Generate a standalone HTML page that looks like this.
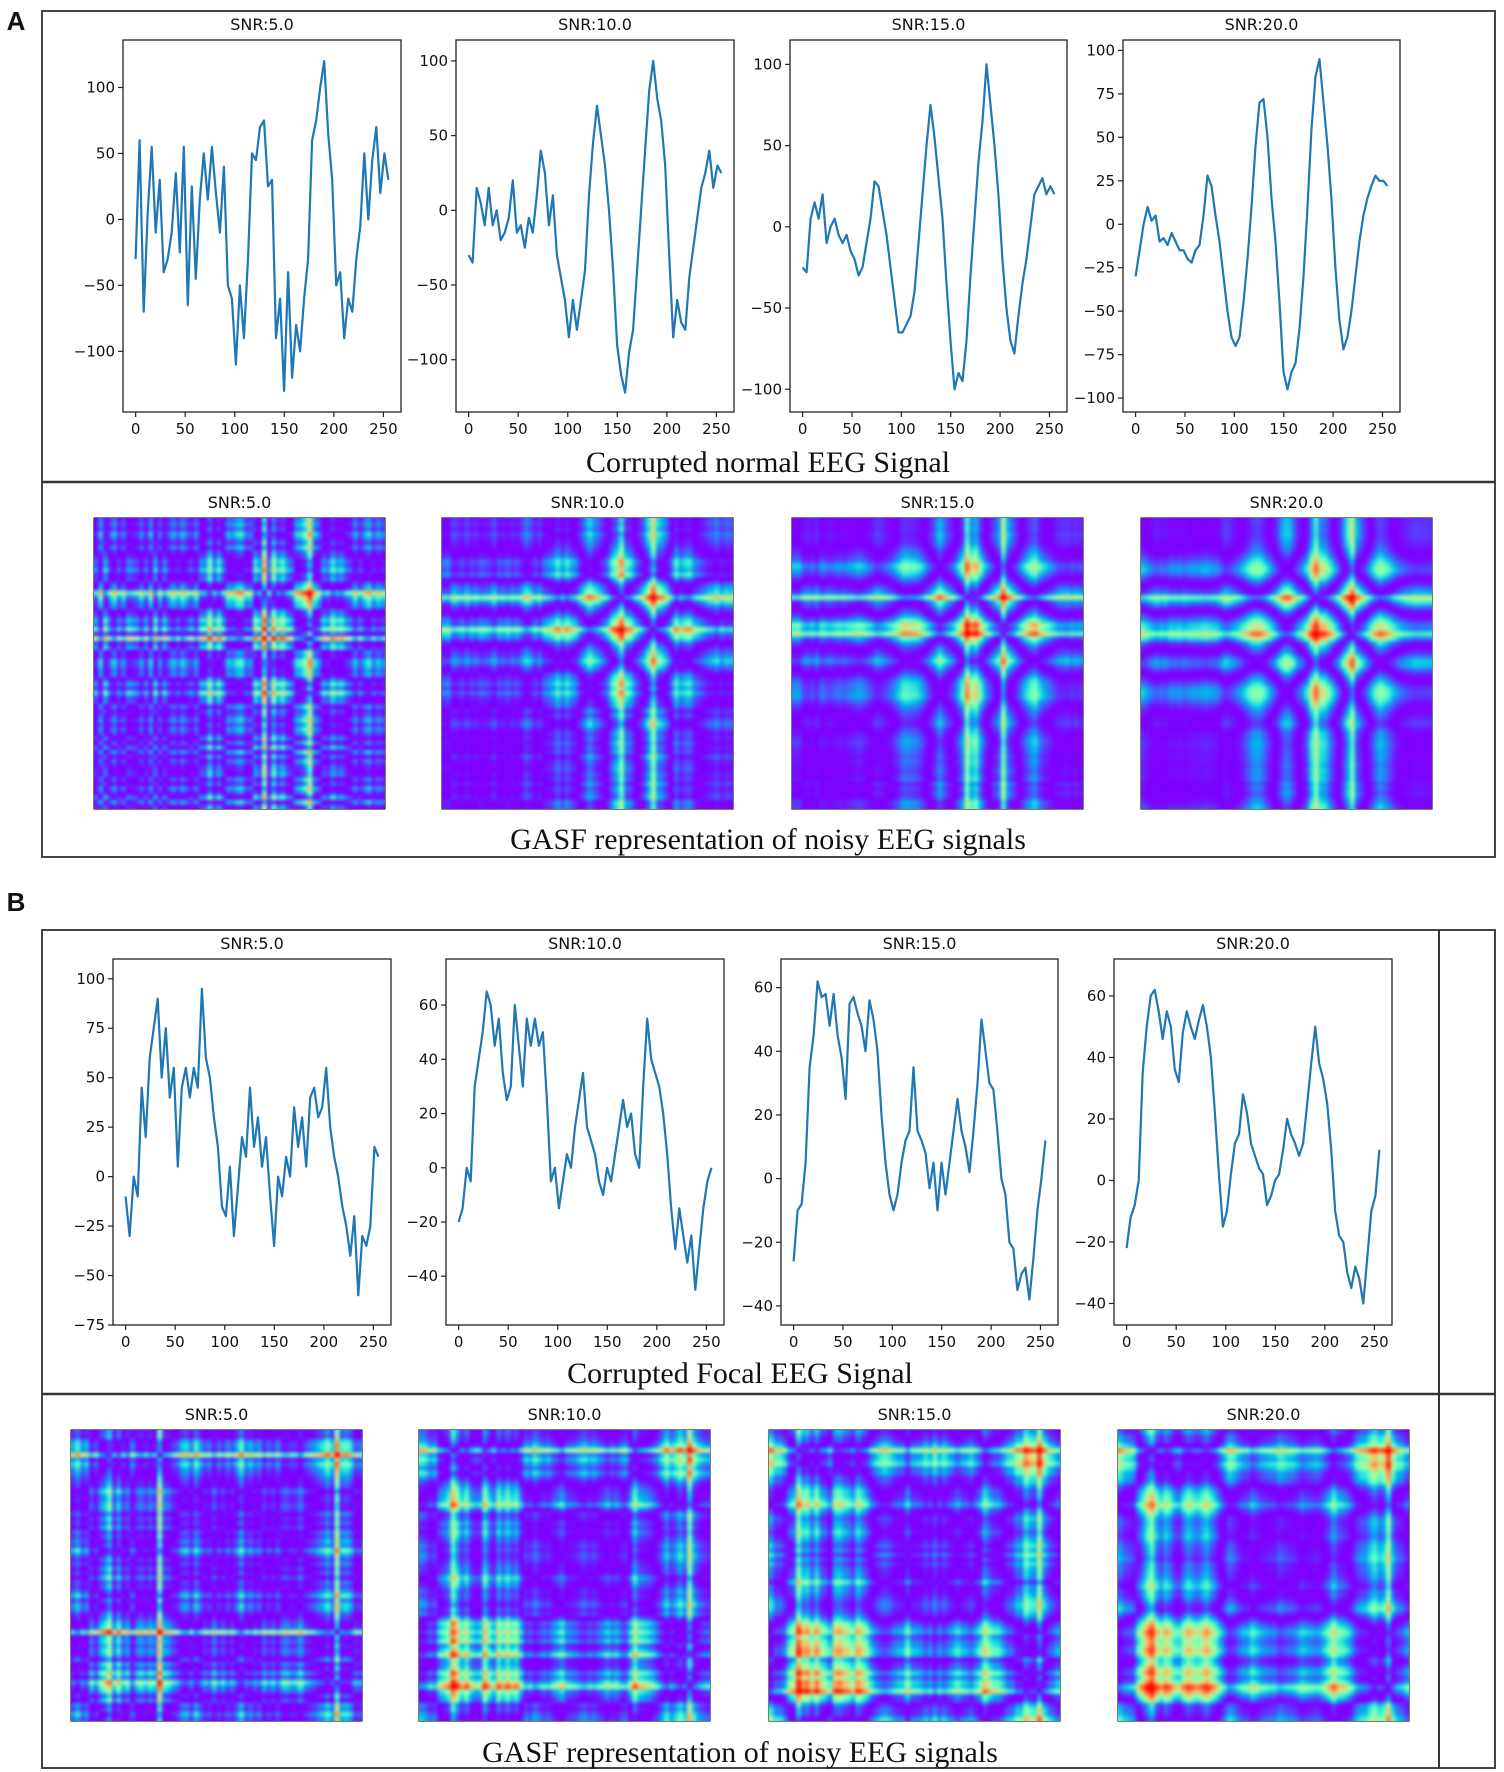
<!DOCTYPE html>
<html><head><meta charset="utf-8"><title>EEG GASF figure</title>
<style>
html,body{margin:0;padding:0;background:#fff;}
#wrap{position:relative;width:1504px;height:1772px;overflow:hidden;background:#fff;}
svg{position:absolute;left:0;top:0;}
canvas{position:absolute;image-rendering:auto;}
</style></head>
<body>
<div id="wrap">
<svg id="svg" width="1504" height="1772" xmlns="http://www.w3.org/2000/svg"></svg>
</div>
<script>
// ---- data (64 samples over t = 0..255) ----
const xTicks = [0,50,100,150,200,250];
const titles = ["SNR:5.0","SNR:10.0","SNR:15.0","SNR:20.0"];
const normalSnr5 = [-30,60,-70,5,55,-10,30,-40,-30,-10,35,-25,55,-65,25,-45,15,50,15,55,20,-10,40,-50,-60,-110,-50,-90,-30,50,45,70,75,25,30,-90,-60,-130,-40,-120,-80,-100,-60,-30,60,75,100,120,65,30,-50,-40,-90,-60,-70,-30,-5,50,0,45,70,20,50,30];
const normalSnr10 = [-30,-35,15,5,-10,15,-10,0,-20,-15,-5,20,-15,-10,-25,-5,-15,10,40,25,-10,10,-30,-45,-60,-85,-60,-80,-60,-40,10,45,70,50,30,0,-40,-90,-110,-122,-95,-80,-40,0,40,80,100,75,60,30,-30,-85,-60,-75,-80,-45,-25,-5,15,25,40,15,30,25];
const normalSnr15 = [-25,-28,5,15,5,20,-10,0,5,-5,-10,-5,-15,-20,-30,-25,-10,5,28,25,10,-5,-25,-45,-65,-65,-60,-55,-40,-10,20,50,75,55,30,5,-35,-70,-100,-90,-95,-70,-30,5,40,65,100,75,50,20,-20,-50,-70,-78,-55,-35,-20,0,20,25,30,20,25,20];
const normalSnr20 = [-30,-15,0,10,2,5,-10,-8,-12,-5,-10,-15,-15,-20,-22,-15,-12,5,28,22,5,-10,-30,-50,-65,-70,-65,-45,-20,10,45,70,72,50,15,-10,-45,-85,-95,-85,-80,-60,-30,10,55,85,95,70,45,15,-25,-55,-72,-65,-50,-30,-10,5,15,22,28,25,25,22];
const focalSnr5 = [-10,-30,0,-10,45,20,60,75,90,50,75,40,55,5,45,55,40,55,45,95,60,50,30,15,-15,-20,5,-30,-5,20,10,45,15,30,5,20,-10,-35,0,-10,10,0,35,15,30,5,40,45,30,35,55,25,10,0,-15,-25,-40,-20,-60,-30,-35,-25,15,10];
const focalSnr10 = [-20,-15,0,-5,30,40,50,65,60,45,55,35,25,30,60,45,30,55,45,55,45,50,25,-5,0,-15,-5,5,0,15,25,35,15,10,5,-5,-10,0,-5,5,15,25,15,20,5,0,30,55,40,35,30,20,5,-15,-30,-15,-25,-35,-25,-45,-30,-15,-5,0];
const focalSnr15 = [-26,-10,-8,5,35,45,62,57,58,48,58,45,38,25,55,57,52,48,40,56,50,40,20,5,-5,-10,-5,5,12,15,35,15,12,8,-3,5,-10,5,-5,5,15,25,15,10,2,15,30,50,40,30,28,15,0,-5,-20,-22,-35,-30,-28,-38,-25,-10,0,12];
const focalSnr20 = [-22,-12,-8,0,35,50,60,62,55,46,55,50,36,32,48,55,50,46,52,57,50,40,22,2,-15,-10,2,12,15,28,22,12,8,4,2,-8,-5,0,2,10,20,15,12,8,12,25,38,50,38,33,25,10,-10,-18,-20,-30,-35,-28,-32,-40,-25,-10,-5,10];
const seriesA = [normalSnr5, normalSnr10, normalSnr15, normalSnr20];
const seriesB = [focalSnr5, focalSnr10, focalSnr15, focalSnr20];
const yTicksA = [[-100,-50,0,50,100],[-100,-50,0,50,100],[-100,-50,0,50,100],[-100,-75,-50,-25,0,25,50,75,100]];
const yTicksB = [[-75,-50,-25,0,25,50,75,100],[-40,-20,0,20,40,60],[-40,-20,0,20,40,60],[-40,-20,0,20,40,60]];
const yLimsA = [[-146,136],[-135,114],[-114,115],[-108,106]];
const yLimsB = [[-75,110],[-58,77],[-46,69],[-47,72]];

// ---- layout ----
const NS = "http://www.w3.org/2000/svg";
const svg = document.getElementById('svg');
const wrap = document.getElementById('wrap');
function el(tag, attrs, parent){
  const e = document.createElementNS(NS, tag);
  for (const k in attrs) e.setAttribute(k, attrs[k]);
  (parent||svg).appendChild(e);
  return e;
}
function txt(s, x, y, size, anchor, family, parent, weight){
  const t = el('text', {x:x, y:y, 'font-size':size, 'text-anchor':anchor||'middle', 'font-family':family||'"DejaVu Sans", sans-serif', fill:'#111', 'font-weight':weight||'normal'}, parent);
  t.textContent = s;
  return t;
}
const fmt = v => (v<0 ? '\u2212'+Math.abs(v) : String(v));

function frame(x1,y1,x2,y2,name){
  const g = el('g', {});
  
  
  el('rect', {x:x1, y:y1, width:x2-x1, height:y2-y1, fill:'none', stroke:'#444', 'stroke-width':2}, g);
  return g;
}
const pA = frame(42,11,1495,857,'panel-a');
el('line',{x1:42,y1:482,x2:1495,y2:482,stroke:'#333','stroke-width':2.5}, pA);
const pB = frame(42,930,1495,1768,'panel-b');
el('line',{x1:42,y1:1394,x2:1495,y2:1394,stroke:'#333','stroke-width':2.5}, pB);
el('line',{x1:1439,y1:930,x2:1439,y2:1768,stroke:'#333','stroke-width':2}, pB);

const lblA = txt('A', 16, 30, 26, 'middle', '"Liberation Sans", sans-serif', svg, 'bold');


const lblB = txt('B', 16, 911, 26, 'middle', '"Liberation Sans", sans-serif', svg, 'bold');



const capFont = '"Liberation Serif", serif';
const c1 = txt('Corrupted normal EEG Signal', 768, 472, 30, 'middle', capFont);


const c2 = txt('GASF representation of noisy EEG signals', 768, 849, 30, 'middle', capFont);


const c3 = txt('Corrupted Focal EEG Signal', 740, 1383, 30, 'middle', capFont);


const c4 = txt('GASF representation of noisy EEG signals', 740, 1762, 30, 'middle', capFont);



// ---- line plots ----
function linePlot(box, data, yLim, yTicks, title, name){
  const [x1,y1,x2,y2] = box;
  const g = el('g', {});
  
  
  const xs = v => x1 + (v + 12.75) / 280.5 * (x2 - x1);
  const ys = v => y2 - (v - yLim[0]) / (yLim[1] - yLim[0]) * (y2 - y1);
  const n = data.length;
  const pts = data.map((v,i) => xs(i*255/(n-1)).toFixed(1)+','+ys(v).toFixed(1)).join(' ');
  const line = el('polyline', {points:pts, fill:'none', stroke:'#1f77b4', 'stroke-width':2.2, 'stroke-linejoin':'round'}, g);
  
  
  el('rect', {x:x1, y:y1, width:x2-x1, height:y2-y1, fill:'none', stroke:'#222', 'stroke-width':1.3}, g);
  xTicks.forEach(t => {
    el('line', {x1:xs(t), y1:y2, x2:xs(t), y2:y2+5, stroke:'#222', 'stroke-width':1.2}, g);
    const tl = txt(String(t), xs(t), y2+22, 15, 'middle', null, g);
    
    
  });
  yTicks.forEach(t => {
    el('line', {x1:x1-5, y1:ys(t), x2:x1, y2:ys(t), stroke:'#222', 'stroke-width':1.2}, g);
    const tl = txt(fmt(t), x1-8, ys(t)+5, 15, 'end', null, g);
    
    
  });
  const tt = txt(title, (x1+x2)/2, y1-10, 16, 'middle', null, g);
  
  
}
const boxesA = [[123,40,401,412],[456,40,734,412],[790,40,1067,412],[1123,40,1400,412]];
const boxesB = [[113,959,391,1325],[446,959,724,1325],[781,959,1058,1325],[1114,959,1392,1325]];
for (let k=0;k<4;k++){
  linePlot(boxesA[k], seriesA[k], yLimsA[k], yTicksA[k], titles[k], 'normal-signal-plot-'+(k+1));
  linePlot(boxesB[k], seriesB[k], yLimsB[k], yTicksB[k], titles[k], 'focal-signal-plot-'+(k+1));
}

// ---- GASF heatmaps (computed from the series, origin at bottom) ----
function rainbow(x){
  const r = Math.min(1, Math.abs(2*x - 0.5));
  const g = Math.sin(Math.PI * x);
  const b = Math.cos(Math.PI * x / 2);
  return [r*255, g*255, b*255];
}
function gasf(x0, y0, size, data, title, name){
  const mn = Math.min(...data), mx = Math.max(...data);
  const s = data.map(v => Math.max(-1, Math.min(1, 2*(v-mn)/(mx-mn) - 1)));
  const n = s.length;
  const src = document.createElement('canvas');
  src.width = n; src.height = n;
  const sctx = src.getContext('2d');
  const img = sctx.createImageData(n, n);
  for (let i=0;i<n;i++) for (let j=0;j<n;j++){
    const v = s[i]*s[j] - Math.sqrt(1-s[i]*s[i])*Math.sqrt(1-s[j]*s[j]);
    const c = rainbow((v+1)/2);
    const row = n-1-i;
    const p = (row*n+j)*4;
    img.data[p]=c[0]; img.data[p+1]=c[1]; img.data[p+2]=c[2]; img.data[p+3]=255;
  }
  sctx.putImageData(img,0,0);
  const cv = document.createElement('canvas');
  cv.width = size; cv.height = size;
  cv.style.left = x0+'px'; cv.style.top = y0+'px';
  
  
  const ctx = cv.getContext('2d');
  ctx.imageSmoothingEnabled = true;
  ctx.imageSmoothingQuality = 'high';
  ctx.drawImage(src, 0, 0, size, size);
  wrap.appendChild(cv);
  el('rect', {x:x0, y:y0, width:size, height:size, fill:'none', stroke:'#222', 'stroke-width':1.2});
  const tt = txt(title, x0+size/2, y0-10, 16, 'middle');
  
  
}
const gA = [94,442,792,1141];
const gB = [71,419,769,1118];
for (let k=0;k<4;k++){
  gasf(gA[k], 518, 291, seriesA[k], titles[k], 'gasf-normal-'+(k+1));
  gasf(gB[k], 1430, 291, seriesB[k], titles[k], 'gasf-focal-'+(k+1));
}
</script>
</body></html>
